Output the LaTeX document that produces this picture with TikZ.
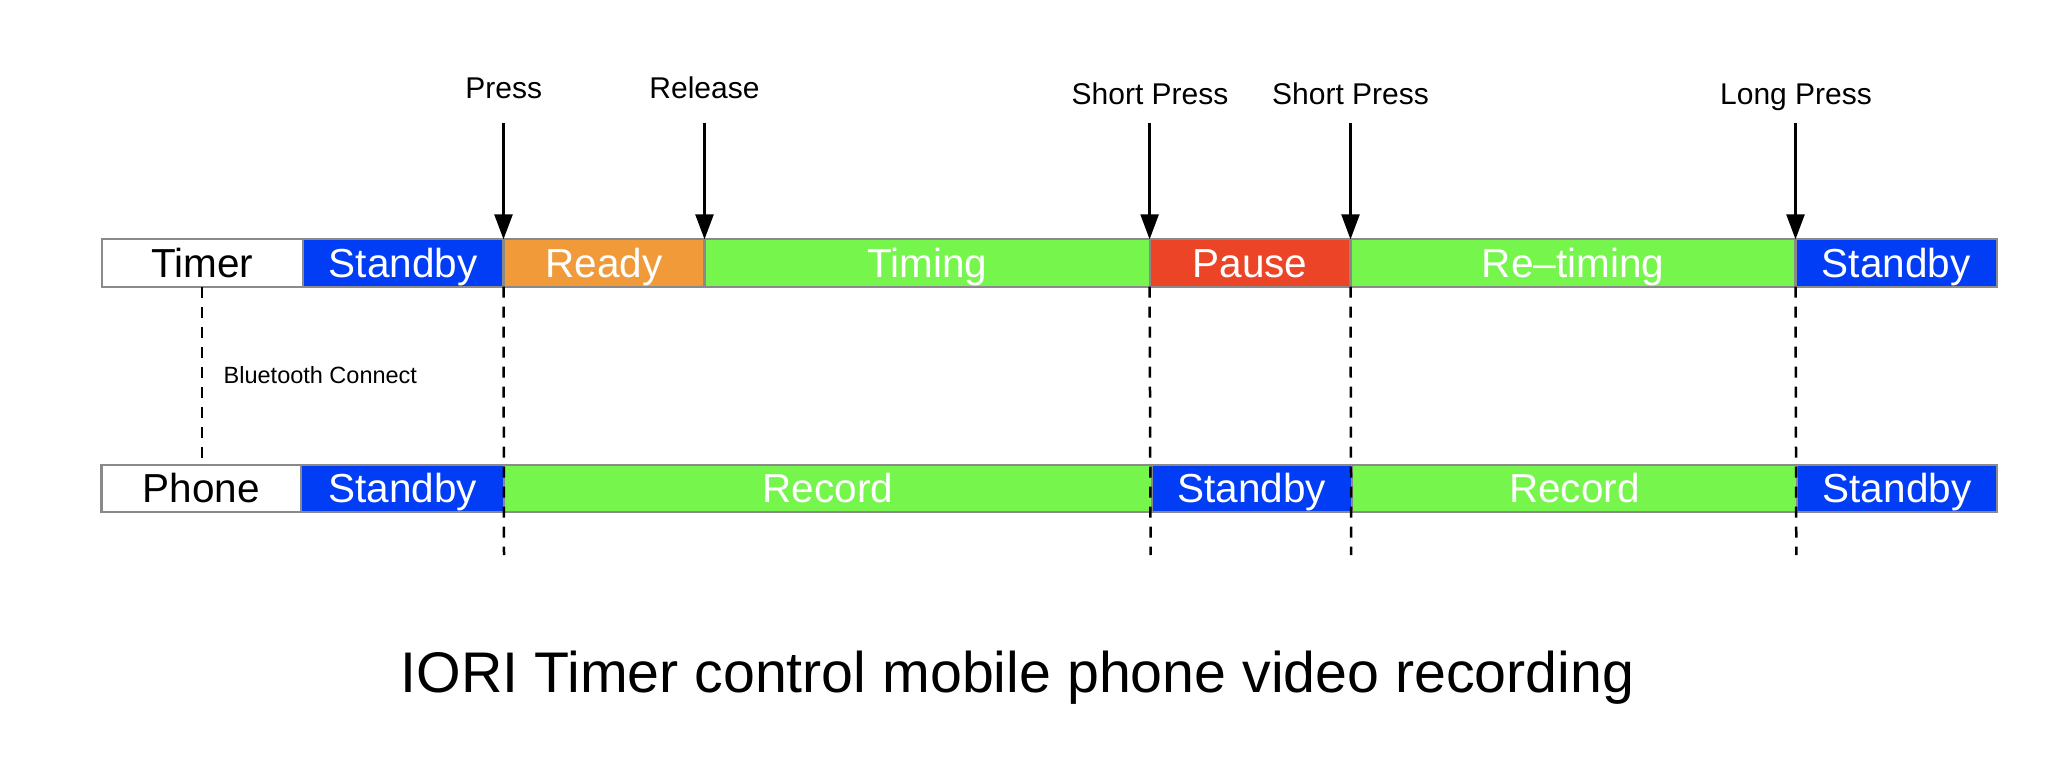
\documentclass[tikz,border=0pt]{standalone}
\usepackage{fontspec}
\setmainfont{Liberation Sans}
\usetikzlibrary{arrows.meta}
\definecolor{sbblue}{RGB}{0,61,245}
\definecolor{rdorange}{RGB}{240,154,58}
\definecolor{tmgreen}{RGB}{118,245,76}
\definecolor{psred}{RGB}{235,68,39}
\definecolor{bordergray}{RGB}{138,138,138}
\tikzset{
 segbox/.style={rectangle, draw=bordergray, line width=2.2pt, minimum height=47.3pt, inner sep=0pt, outer sep=0pt, text height=28.6pt, text depth=0pt, font=\fontsize{40.5}{48}\selectfont, text=white},
 namebox/.style={fill=white, text=black},
 evlabel/.style={font=\fontsize{30}{36}\selectfont, anchor=base, inner sep=0pt},
 evarrow/.style={line width=2.5pt, -{Triangle[length=25pt,width=18pt]}},
 guide/.style={line width=2.5pt, dash pattern=on 11pt off 9pt},
}
\newcommand\mkseg[6]{\node[segbox, #5, minimum width=(#3-#2)*1pt] (#1) at ({(#2+#3)/2},#4) {#6};}
\begin{document}
\begin{tikzpicture}[x=1pt,y=-1pt]
\useasboundingbox[fill=white] (0,0) rectangle (2070,778);
% Timer row
\mkseg{timer}{101.7}{302.7}{263}{namebox}{Timer}
\mkseg{tstandbyA}{302.7}{503.5}{263}{fill=sbblue}{Standby}
\mkseg{ready}{503.5}{704.5}{263}{fill=rdorange}{Ready}
\mkseg{timing}{704.5}{1149.6}{263}{fill=tmgreen}{Timing}
\mkseg{pause}{1149.6}{1350.5}{263}{fill=psred}{Pause}
\mkseg{retiming}{1350.5}{1795.5}{263}{fill=tmgreen}{Re–timing}
\mkseg{tstandbyB}{1795.5}{1997}{263}{fill=sbblue}{Standby}
% Phone row
\mkseg{phone}{101.5}{301}{488.6}{namebox}{Phone}
\mkseg{pstandbyA}{301}{504.3}{488.6}{fill=sbblue}{Standby}
\mkseg{recordA}{504.3}{1151.6}{488.6}{fill=tmgreen}{Record}
\mkseg{pstandbyB}{1151.6}{1352}{488.6}{fill=sbblue}{Standby}
\mkseg{recordB}{1352}{1797}{488.6}{fill=tmgreen}{Record}
\mkseg{pstandbyC}{1797}{1997}{488.6}{fill=sbblue}{Standby}
% event labels
\node[evlabel] (lpress) at (503.8,99) {Press};
\node[evlabel] (lrelease) at (704.5,99) {Release};
\node[evlabel] (lshortA) at (1150,105) {Short Press};
\node[evlabel] (lshortB) at (1350.5,105) {Short Press};
\node[evlabel] (llong) at (1796,105) {Long Press};
\coordinate (apress) at (503.5,122.8);
\coordinate (arelease) at (704.5,122.8);
\coordinate (ashortA) at (1149.6,122.8);
\coordinate (ashortB) at (1350.5,122.8);
\coordinate (along) at (1795.5,122.8);
\draw[evarrow] (apress) -- (ready.north west);
\draw[evarrow] (arelease) -- (timing.north west);
\draw[evarrow] (ashortA) -- (pause.north west);
\draw[evarrow] (ashortB) -- (retiming.north west);
\draw[evarrow] (along) -- (tstandbyB.north west);
% guides
\coordinate (gA) at (504,555);
\coordinate (gB) at (1150.6,555);
\coordinate (gC) at (1351.2,555);
\coordinate (gD) at (1796.3,555);
\draw[guide] (ready.south west) -- (gA);
\draw[guide] (pause.south west) -- (gB);
\draw[guide] (retiming.south west) -- (gC);
\draw[guide] (tstandbyB.south west) -- (gD);
\draw[guide] (timer.south) -- (timer.south |- phone.north);
\node[anchor=base west, inner sep=0pt, font=\fontsize{23.5}{28}\selectfont] (bt) at (223.5,383) {Bluetooth Connect};
\node[anchor=base, inner sep=0pt, font=\fontsize{57.3}{68}\selectfont] (title) at (1017.5,692) {IORI Timer control mobile phone video recording};
\end{tikzpicture}
\end{document}
